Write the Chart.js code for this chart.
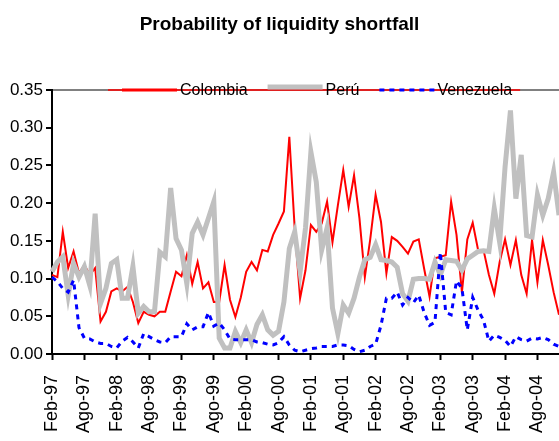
<!DOCTYPE html>
<html>
<head>
<meta charset="utf-8">
<script src="https://cdn.jsdelivr.net/npm/chart.js@4.4.1/dist/chart.umd.min.js"></script>
<style>
  body { margin: 0; background: #fff; }
  #wrap { width: 559px; height: 441px; position: relative; }
</style>
</head>
<body>
<div id="wrap"><canvas id="myChart"></canvas></div>
<script>
(function () {
    'use strict'

    // monthly categories, Feb-97 .. Dic-04
    const months = [
        'Feb-97', 'Mar-97', 'Abr-97', 'May-97', 'Jun-97', 'Jul-97', 'Ago-97', 'Sep-97', 'Oct-97', 'Nov-97', 'Dic-97',
        'Ene-98', 'Feb-98', 'Mar-98', 'Abr-98', 'May-98', 'Jun-98', 'Jul-98', 'Ago-98', 'Sep-98', 'Oct-98', 'Nov-98', 'Dic-98',
        'Ene-99', 'Feb-99', 'Mar-99', 'Abr-99', 'May-99', 'Jun-99', 'Jul-99', 'Ago-99', 'Sep-99', 'Oct-99', 'Nov-99', 'Dic-99',
        'Ene-00', 'Feb-00', 'Mar-00', 'Abr-00', 'May-00', 'Jun-00', 'Jul-00', 'Ago-00', 'Sep-00', 'Oct-00', 'Nov-00', 'Dic-00',
        'Ene-01', 'Feb-01', 'Mar-01', 'Abr-01', 'May-01', 'Jun-01', 'Jul-01', 'Ago-01', 'Sep-01', 'Oct-01', 'Nov-01', 'Dic-01',
        'Ene-02', 'Feb-02', 'Mar-02', 'Abr-02', 'May-02', 'Jun-02', 'Jul-02', 'Ago-02', 'Sep-02', 'Oct-02', 'Nov-02', 'Dic-02',
        'Ene-03', 'Feb-03', 'Mar-03', 'Abr-03', 'May-03', 'Jun-03', 'Jul-03', 'Ago-03', 'Sep-03', 'Oct-03', 'Nov-03', 'Dic-03',
        'Ene-04', 'Feb-04', 'Mar-04', 'Abr-04', 'May-04', 'Jun-04', 'Jul-04', 'Ago-04', 'Sep-04', 'Oct-04', 'Nov-04', 'Dic-04'
    ]
    // only these months get a tick label
    const tickMonths = ['Feb', 'Ago']

    const colombia = [
        0.105, 0.102, 0.162, 0.114, 0.136, 0.107, 0.118, 0.105, 0.114, 0.043,
        0.056, 0.083, 0.087, 0.083, 0.089, 0.069, 0.041, 0.056, 0.052, 0.050,
        0.056, 0.056, 0.083, 0.109, 0.103, 0.131, 0.093, 0.122, 0.087, 0.095,
        0.069, 0.069, 0.118, 0.072, 0.049, 0.075, 0.109, 0.122, 0.111, 0.138,
        0.136, 0.158, 0.173, 0.189, 0.288, 0.166, 0.074, 0.111, 0.171, 0.162,
        0.173, 0.202, 0.148, 0.197, 0.244, 0.195, 0.237, 0.180, 0.102, 0.152,
        0.211, 0.175, 0.107, 0.155, 0.150, 0.142, 0.133, 0.149, 0.152, 0.113,
        0.076, 0.127, 0.129, 0.131, 0.202, 0.158, 0.082, 0.152, 0.174, 0.138,
        0.138, 0.105, 0.080, 0.122, 0.152, 0.118, 0.151, 0.105, 0.080, 0.151,
        0.095, 0.151, 0.118, 0.082, 0.052
    ]
    const peru = [
        0.109, 0.122, 0.129, 0.078, 0.120, 0.102, 0.116, 0.091, 0.186, 0.067,
        0.087, 0.120, 0.125, 0.074, 0.074, 0.116, 0.054, 0.063, 0.056, 0.056,
        0.135, 0.129, 0.220, 0.153, 0.138, 0.093, 0.160, 0.175, 0.158, 0.180,
        0.202, 0.021, 0.008, 0.008, 0.030, 0.015, 0.032, 0.015, 0.039, 0.052,
        0.032, 0.025, 0.030, 0.069, 0.140, 0.162, 0.109, 0.167, 0.268, 0.228,
        0.138, 0.167, 0.061, 0.027, 0.065, 0.054, 0.074, 0.102, 0.125, 0.128,
        0.145, 0.125, 0.124, 0.122, 0.115, 0.080, 0.070, 0.099, 0.100, 0.100,
        0.099, 0.122, 0.105, 0.125, 0.124, 0.123, 0.111, 0.126, 0.131, 0.136,
        0.137, 0.136, 0.193, 0.148, 0.248, 0.323, 0.206, 0.264, 0.157, 0.155,
        0.211, 0.184, 0.206, 0.241, 0.184
    ]
    const venezuela = [
        0.102, 0.096, 0.087, 0.082, 0.098, 0.035, 0.021, 0.020, 0.016, 0.014,
        0.014, 0.010, 0.008, 0.017, 0.022, 0.016, 0.008, 0.027, 0.023, 0.019,
        0.016, 0.015, 0.023, 0.023, 0.023, 0.040, 0.032, 0.036, 0.036, 0.055,
        0.037, 0.041, 0.032, 0.020, 0.019, 0.019, 0.019, 0.019, 0.016, 0.015,
        0.013, 0.012, 0.015, 0.023, 0.012, 0.005, 0.003, 0.005, 0.007, 0.008,
        0.010, 0.010, 0.010, 0.012, 0.012, 0.011, 0.006, 0.003, 0.005, 0.010,
        0.013, 0.038, 0.074, 0.074, 0.082, 0.065, 0.075, 0.068, 0.078, 0.055,
        0.038, 0.042, 0.135, 0.055, 0.052, 0.097, 0.087, 0.032, 0.075, 0.058,
        0.045, 0.017, 0.025, 0.022, 0.018, 0.010, 0.023, 0.019, 0.017, 0.021,
        0.020, 0.022, 0.019, 0.013, 0.010
    ]
    const seriesNames = ['Colombia', 'Perú', 'Venezuela']
    const yTicks = [0, 0.05, 0.10, 0.15, 0.20, 0.25, 0.30, 0.35]

    // Arial Narrow look-alike if the narrow cut is installed
    function hasFont(name) {
        const c = document.createElement('canvas').getContext('2d')
        c.font = '40px monospace'
        const a = c.measureText('Colombia shortfall').width
        c.font = '40px "' + name + '", monospace'
        return c.measureText('Colombia shortfall').width !== a
    }
    const narrow = hasFont('Liberation Sans Narrow')
    const NARROW = narrow ? '"Liberation Sans Narrow", "Liberation Sans", Arial' : '"Liberation Sans", Arial'
    const SANS = '"Liberation Sans", Arial, sans-serif'
    const titleSize = narrow ? 23 : 19
    const legendSize = narrow ? 19 : 16

    const isTickMonth = i => tickMonths.includes(months[i].slice(0, 3))

    // legend sits on the top border, like the original
    const topLegend = {
        id: 'topLegend',
        afterDraw(chart) {
            const { ctx, chartArea } = chart
            const y = chartArea.top
            ctx.save()
            ctx.font = legendSize + 'px ' + NARROW
            ctx.textBaseline = 'middle'
            const sample = 55
            const start = chartArea.left + 70
            let x = start
            const items = chart.data.datasets.map(ds => {
                const w = ctx.measureText(ds.label).width
                const it = { ds, x, w }
                x += sample + 3 + w + 20
                return it
            })
            const end = items[items.length - 1].x + sample + 3 + items[items.length - 1].w + 8

            ctx.strokeStyle = '#ff0000'
            ctx.lineWidth = 1.5
            ctx.beginPath()
            ctx.moveTo(start - 14, y)
            ctx.lineTo(end, y)
            ctx.stroke()

            items.forEach(it => {
                const ds = it.ds
                ctx.strokeStyle = ds.borderColor
                ctx.lineWidth = ds === chart.data.datasets[0] ? 3 : ds.borderWidth
                ctx.setLineDash(ds.borderDash || [])
                ctx.beginPath()
                ctx.moveTo(it.x, y - (ds.borderWidth > 4 ? 3 : 0))
                ctx.lineTo(it.x + sample, y - (ds.borderWidth > 4 ? 3 : 0))
                ctx.stroke()
                ctx.setLineDash([])
                ctx.fillStyle = '#000'
                ctx.fillText(ds.label, it.x + sample + 3, y + 1)
            })
            ctx.restore()
        }
    }

    const data = {
        labels: months,
        datasets: [
            { label: seriesNames[0], data: colombia, borderColor: '#ff0000', borderWidth: 2, order: 3 },
            { label: seriesNames[1], data: peru, borderColor: '#c0c0c0', borderWidth: 5, order: 2 },
            { label: seriesNames[2], data: venezuela, borderColor: '#0000ff', borderWidth: 3, borderDash: [5, 5], order: 1 }
        ]
    }

    const config = {
        type: 'line',
        data: data,
        plugins: [topLegend],
        options: {
            responsive: true,
            maintainAspectRatio: false,
            animation: false,
            layout: { padding: 0 },
            elements: {
                point: { radius: 0 },
                line: { tension: 0, borderCapStyle: 'butt', borderJoinStyle: 'miter' }
            },
            plugins: {
                legend: { display: false },
                tooltip: { enabled: false },
                title: {
                    display: true,
                    text: 'Probability of liquidity shortfall',
                    color: '#000',
                    font: { family: NARROW, size: titleSize, weight: 'bold', lineHeight: 1.2 },
                    padding: { top: 13, bottom: 90 - 13 - titleSize * 1.2 }
                }
            },
            scales: {
                x: {
                    type: 'category',
                    offset: false,
                    border: { color: '#000', width: 2 },
                    grid: {
                        drawOnChartArea: false,
                        tickLength: 6,
                        tickWidth: 2,
                        tickColor: c => isTickMonth(c.index) ? '#000' : 'rgba(0,0,0,0)'
                    },
                    ticks: {
                        autoSkip: false,
                        maxRotation: 90,
                        minRotation: 90,
                        padding: 15,
                        color: '#000',
                        font: { family: SANS, size: 18 },
                        callback: (v, i) => isTickMonth(i) ? months[i] : ''
                    },
                    afterFit: s => { s.height = 87; s.paddingLeft = 0; s.paddingRight = 0 }
                },
                y: {
                    min: yTicks[0],
                    max: yTicks[yTicks.length - 1],
                    border: { color: '#000', width: 2 },
                    grid: {
                        tickLength: 6,
                        tickWidth: 2,
                        tickColor: '#000',
                        lineWidth: 2,
                        color: c => Math.abs(c.tick.value - yTicks[yTicks.length - 1]) < 1e-6 ? '#808080' : 'rgba(0,0,0,0)'
                    },
                    afterBuildTicks: s => { s.ticks = yTicks.map(v => ({ value: v })) },
                    ticks: {
                        padding: 3,
                        color: '#000',
                        font: { family: SANS, size: 17 },
                        callback: v => Number(v).toFixed(2)
                    },
                    afterFit: s => { s.width = 52 }
                }
            }
        }
    }

    const ctx = document.getElementById('myChart').getContext('2d')
    const myChart = new Chart(ctx, config)
})()
</script>
</body>
</html>
